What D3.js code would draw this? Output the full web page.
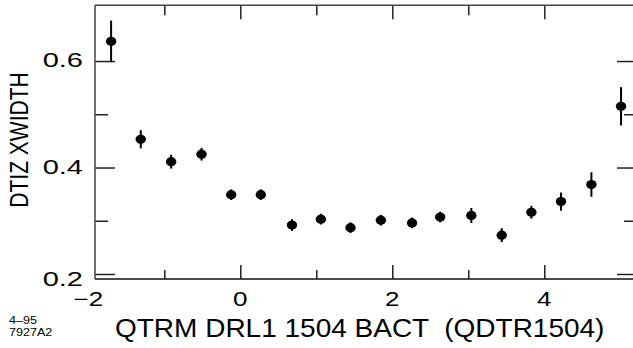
<!DOCTYPE html>
<html>
<head>
<meta charset="utf-8">
<script src="https://cdn.jsdelivr.net/npm/d3@7"></script>
<style>
  html, body { margin: 0; padding: 0; background: #fff; }
  svg { display: block; }
  text { font-family: "Liberation Sans", Arial, Helvetica, sans-serif; fill: #000; }
</style>
</head>
<body>
<svg id="chart" width="633" height="348"></svg>
<script>
// ---- data ----
const xValues = [-1.70, -1.31, -0.91, -0.51, -0.12, 0.27, 0.68, 1.06, 1.45, 1.85, 2.26, 2.63, 3.04, 3.44, 3.83, 4.22, 4.62, 5.01];
const yValues = [0.637, 0.453, 0.411, 0.425, 0.349, 0.349, 0.292, 0.303, 0.287, 0.301, 0.296, 0.307, 0.310, 0.273, 0.316, 0.336, 0.368, 0.515];
const yErrors = [0.039, 0.017, 0.013, 0.012, 0.010, 0.010, 0.011, 0.010, 0.010, 0.010, 0.010, 0.010, 0.014, 0.013, 0.012, 0.017, 0.023, 0.036];

const xMajorTicks = [0, 2, 4];
const xMinorTicks = [-1, 1, 3];
const xTickLabels = [-2, 0, 2, 4];
const yMajorTicks = [0.2, 0.4, 0.6];
const yMinorTicks = [0.3, 0.5];
const yTickLabels = [0.2, 0.4, 0.6];

const xTitle = "QTRM DRL1 1504 BACT  (QDTR1504)";
const yTitle = "DTIZ XWIDTH";
const noteLines = ["4\u201395", "7927A2"];

// ---- layout ----
const pLeft = 95, pRight = 637, pTop = 5.3, pBottom = 279;
const svg = d3.select("#chart");

const x = d3.scaleLinear().domain([-1.912, 5.22]).range([pLeft, pRight]);
const y = d3.scaleLinear().domain([0.1906, 0.7047]).range([pBottom, pTop]);

const fmtX = v => (v < 0 ? "\u2212" + Math.abs(v) : String(v));
const fmtY = d3.format(".1f");

function tickAxis(axisFn, scale, values, size, transform) {
  const g = svg.append("g").attr("transform", transform)
    .call(axisFn(scale).tickValues(values).tickSize(size).tickFormat(""));
  g.select(".domain").remove();
  g.selectAll(".tick line").attr("stroke", "#222").attr("stroke-width", 1.5);
  return g;
}
tickAxis(d3.axisBottom, x, xMajorTicks, -14, `translate(0,${pBottom})`);
tickAxis(d3.axisBottom, x, xMinorTicks, -9, `translate(0,${pBottom})`);
tickAxis(d3.axisTop, x, xMajorTicks, -14, `translate(0,${pTop})`);
tickAxis(d3.axisTop, x, xMinorTicks, -10, `translate(0,${pTop})`);
tickAxis(d3.axisLeft, y, yMajorTicks, -20, `translate(${pLeft},0)`);
tickAxis(d3.axisLeft, y, yMinorTicks, -13, `translate(${pLeft},0)`);
tickAxis(d3.axisRight, y, yMajorTicks, -20, `translate(${pRight},0)`);
tickAxis(d3.axisRight, y, yMinorTicks, -13, `translate(${pRight},0)`);

// frame
svg.append("line").attr("x1", pLeft).attr("x2", pRight).attr("y1", pTop).attr("y2", pTop)
  .attr("stroke", "#444").attr("stroke-width", 1.5);
svg.append("line").attr("x1", pLeft).attr("x2", pLeft).attr("y1", pTop).attr("y2", pBottom)
  .attr("stroke", "#444").attr("stroke-width", 1.5);
svg.append("line").attr("x1", pLeft).attr("x2", pRight).attr("y1", pBottom).attr("y2", pBottom)
  .attr("stroke", "#111").attr("stroke-width", 1.6);
svg.append("line").attr("x1", pRight).attr("x2", pRight).attr("y1", pTop).attr("y2", pBottom)
  .attr("stroke", "#444").attr("stroke-width", 1.5);

// tick labels
const tickFont = 20;
svg.append("g").selectAll("text").data(xTickLabels).join("text")
  .attr("transform", d => `translate(${x(d)},306) scale(1.3,1)`)
  .attr("text-anchor", "middle")
  .attr("font-size", tickFont)
  .text(fmtX);

svg.append("g").selectAll("text").data(yTickLabels).join("text")
  .attr("transform", d => {
    const yy = y(d);
    const base = (pBottom - yy < 10) ? pBottom + 7 : yy + 6;
    return `translate(83,${base}) scale(1.45,1)`;
  })
  .attr("text-anchor", "end")
  .attr("font-size", tickFont)
  .text(fmtY);

// axis titles
svg.append("text")
  .attr("transform", `translate(115,337) scale(1.12,1)`)
  .attr("font-size", 25)
  .style("white-space", "pre")
  .text(xTitle);

svg.append("text")
  .attr("transform", `translate(28,140) scale(1.2,1) rotate(-90)`)
  .attr("text-anchor", "middle")
  .attr("font-size", 21)
  .text(yTitle);

// note
svg.append("g").selectAll("text").data(noteLines).join("text")
  .attr("transform", (d, i) => `translate(9,${324 + i * 12}) scale(1.2,1)`)
  .attr("font-size", 10.5)
  .text(d => d);

// data: error bars + markers
const pts = xValues.map((v, i) => ({ x: v, y: yValues[i], e: yErrors[i] }));
const gp = svg.append("g");
gp.selectAll("line.err").data(pts).join("line").attr("class", "err")
  .attr("x1", d => x(d.x)).attr("x2", d => x(d.x))
  .attr("y1", d => y(d.y + d.e)).attr("y2", d => y(d.y - d.e))
  .attr("stroke", "#000").attr("stroke-width", 2);
gp.selectAll("ellipse").data(pts).join("ellipse")
  .attr("cx", d => x(d.x)).attr("cy", d => y(d.y))
  .attr("rx", 5.2).attr("ry", 4.6)
  .attr("fill", "#000");
</script>
</body>
</html>
